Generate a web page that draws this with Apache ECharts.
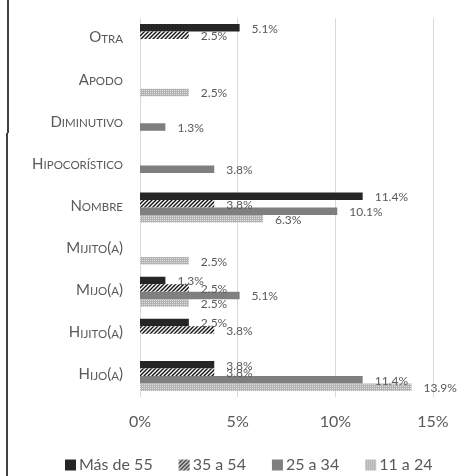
<!DOCTYPE html>
<html>
<head>
<meta charset="utf-8">
<script src="https://cdn.jsdelivr.net/npm/echarts@6/dist/echarts.min.js"></script>
<style>
html,body{margin:0;padding:0;background:#fff;}
#chart{width:474px;height:476px;}
</style>
</head>
<body>
<div id="chart"></div>
<script>
// Categories listed top to bottom
const categories = ['Otra','Apodo','Diminutivo','Hipocorístico','Nombre','Mijito(a)','Mijo(a)','Hijito(a)','Hijo(a)'];
const seriesNames = ['Más de 55','35 a 54','25 a 34','11 a 24'];
const masDe55 = [5.1, null, null, null, 11.4, null, 1.3, 2.5, 3.8];
const de35a54 = [2.5, null, null, null, 3.8, null, 2.5, 3.8, 3.8];
const de25a34 = [null, null, 1.3, 3.8, 10.1, null, 5.1, null, 11.4];
const de11a24 = [null, 2.5, null, null, 6.3, 2.5, 2.5, null, 13.9];
const xTicks = [0, 5, 10, 15];

function makePattern(kind){
  const c = document.createElement('canvas');
  c.width = 4; c.height = 4;
  const g = c.getContext('2d');
  if (kind === 'hatch'){
    g.fillStyle = '#ffffff'; g.fillRect(0,0,4,4);
    g.strokeStyle = '#111111'; g.lineWidth = 1.4;
    g.beginPath();
    g.moveTo(-1,5); g.lineTo(5,-1);
    g.moveTo(-1,1); g.lineTo(1,-1);
    g.moveTo(3,5); g.lineTo(5,3);
    g.stroke();
  } else {
    g.fillStyle = '#b3b3b3'; g.fillRect(0,0,4,4);
    g.fillStyle = '#e0e0e0';
    g.fillRect(0,0,1,1); g.fillRect(2,2,1,1);
    g.fillRect(2,0,1,1); g.fillRect(0,2,1,1);
  }
  return {image: c, repeat: 'repeat'};
}

function smallCaps(str){
  let out = '', cur = null, buf = '';
  for (const ch of str){
    const isLower = ch !== ch.toUpperCase();
    const st = isLower ? 's' : 'b';
    const t = isLower ? ch.toUpperCase() : ch;
    if (st !== cur){
      if (buf) out += '{' + cur + '|' + buf + '}';
      cur = st; buf = t;
    } else buf += t;
  }
  if (buf) out += '{' + cur + '|' + buf + '}';
  return out;
}

const colors = ['#262626', makePattern('hatch'), '#7f7f7f', makePattern('dots')];
const datas = [masDe55, de35a54, de25a34, de11a24];

const chart = echarts.init(document.getElementById('chart'), null, {renderer:'canvas'});
const FONT = 'Lato, "Open Sans", sans-serif';
chart.setOption({
  animation: false,
  backgroundColor: '#ffffff',
  textStyle: {fontFamily: FONT},
  grid: {left: 140, right: 41, top: 18, height: 379},
  legend: {
    data: seriesNames,
    left: 60, top: 452,
    itemWidth: 11, itemHeight: 11, itemGap: 26,
    icon: 'rect',
    textStyle: {fontSize: 16, color: '#595959', fontFamily: FONT, padding: [0,0,0,-2]}
  },
  xAxis: {
    type: 'value', min: xTicks[0], max: xTicks[xTicks.length-1], interval: 5,
    axisLine: {show: false}, axisTick: {show: false},
    splitLine: {lineStyle: {color: '#d9d9d9', width: 1}},
    axisLabel: {formatter: v => v + '%', fontSize: 16, color: '#595959', margin: 17, fontFamily: FONT}
  },
  yAxis: {
    type: 'category', data: categories, inverse: true,
    axisLine: {show: false}, axisTick: {show: false},
    axisLabel: {
      margin: 17,
      padding: [0, 0, 3, 0],
      formatter: v => smallCaps(v),
      rich: {
        b: {fontSize: 15, color: '#595959', fontFamily: FONT, verticalAlign: 'bottom', lineHeight: 15},
        s: {fontSize: 11.5, color: '#595959', fontFamily: FONT, verticalAlign: 'bottom', lineHeight: 11.5}
      }
    }
  },
  series: seriesNames.map((n, i) => ({
    name: n, type: 'bar', data: datas[i],
    barWidth: 7.5, barGap: '0%',
    itemStyle: {color: colors[i]},
    label: {
      show: true, position: 'right', distance: 12, offset: [0, 1],
      fontSize: 12, color: '#595959', fontFamily: FONT,
      formatter: p => p.value == null ? '' : p.value.toFixed(1) + '%'
    }
  })),
  graphic: [
    {type: 'line', shape: {x1: 8, y1: 0, x2: 8, y2: 133}, style: {stroke: '#000', lineWidth: 1.5}},
    {type: 'line', shape: {x1: 7, y1: 133, x2: 7, y2: 476}, style: {stroke: '#000', lineWidth: 1.5}}
  ]
});
</script>
</body>
</html>
